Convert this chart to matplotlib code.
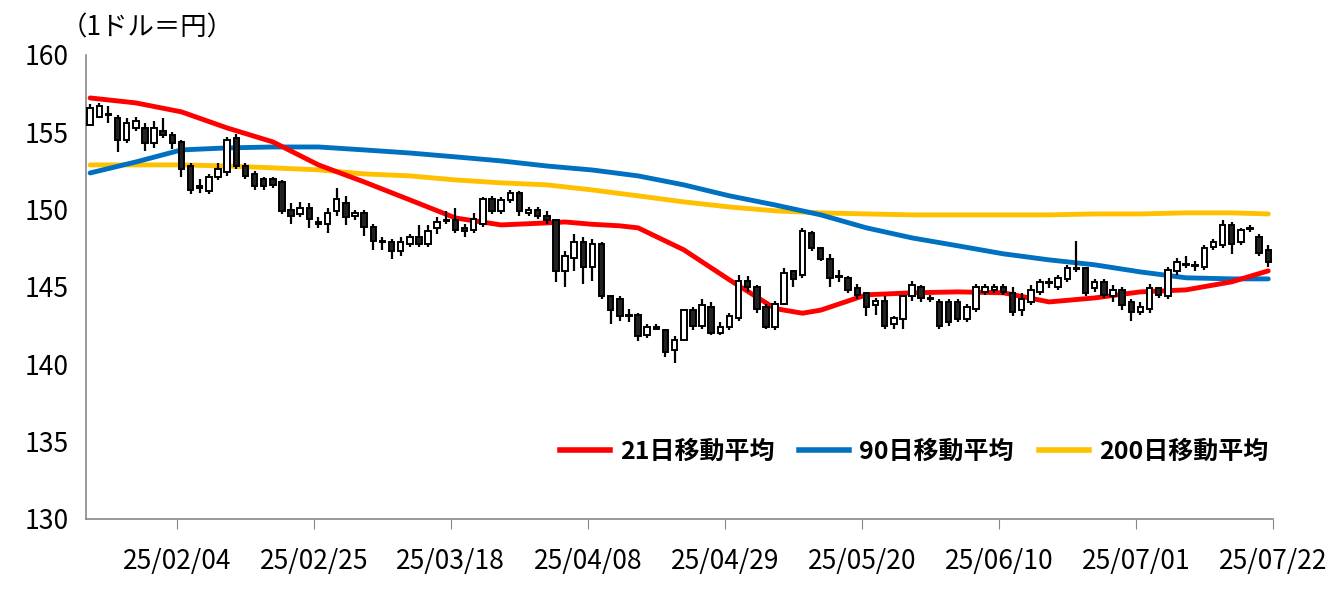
import matplotlib
matplotlib.use("Agg")
import matplotlib.pyplot as plt
from matplotlib.lines import Line2D

plt.rcParams['font.family'] = ['Noto Sans CJK JP', 'DejaVu Sans']

opens = [155.5,156.0,156.2,155.9,154.5,155.3,155.3,154.3,155.1,154.8,
         154.4,152.8,151.5,151.2,152.1,152.4,154.6,152.8,152.3,152.0,
         152.0,151.8,150.0,149.7,150.1,149.2,149.1,149.9,150.4,149.6,
         149.8,148.9,148.0,147.9,147.3,147.8,148.2,147.8,148.8,149.3,
         149.3,148.8,148.7,149.1,150.7,149.9,150.6,151.1,149.8,150.0,
         149.6,149.3,146.0,146.9,147.9,146.3,147.8,144.4,144.2,143.2,
         143.2,141.9,142.4,142.2,140.9,141.6,143.5,142.5,143.7,142.0,
         142.4,143.0,145.4,145.0,143.7,142.4,143.9,146.0,145.8,148.5,
         147.5,146.8,145.7,145.6,144.9,144.6,143.8,144.1,142.6,142.9,
         144.4,145.0,144.3,144.0,144.0,144.0,142.9,143.6,144.7,144.8,
         145.0,144.6,143.5,144.0,144.7,145.3,145.0,145.5,146.2,146.2,
         144.9,145.3,144.4,144.8,144.0,143.4,143.6,144.9,144.4,146.0,
         146.5,146.4,146.3,147.6,147.7,149.0,147.9,148.8,148.2,147.4]
closes = [156.6,156.7,156.1,154.5,155.6,155.7,154.3,155.3,154.8,154.3,
          152.6,151.3,151.4,152.1,152.6,154.5,152.8,152.2,151.5,151.5,
          151.6,149.9,149.6,150.1,149.4,149.1,149.8,150.7,149.5,149.8,
          148.9,148.0,147.9,147.3,147.9,148.2,147.8,148.6,149.2,149.25,
          148.7,148.6,149.4,150.7,149.9,150.6,151.1,149.9,150.0,149.6,
          149.3,146.0,147.0,147.9,146.3,147.8,144.4,143.5,143.1,143.1,
          141.8,142.4,142.3,140.8,141.6,143.5,142.5,143.8,142.0,142.4,
          143.1,145.4,145.0,143.6,142.4,143.9,145.9,145.5,148.6,147.5,
          146.8,145.6,145.65,144.8,144.5,143.7,144.1,142.5,143.0,144.4,
          145.1,144.3,144.25,142.5,142.7,142.9,143.7,145.0,145.0,145.0,
          144.7,143.4,144.2,144.8,145.3,145.25,145.6,146.2,146.15,144.6,
          145.3,144.5,144.8,143.8,143.4,143.7,144.9,144.5,146.1,146.6,
          146.45,146.35,147.5,147.9,149.0,147.8,148.7,148.75,147.2,146.6]
upper_wick = [0.2,0.2,0.5,0.2,0.3,0.3,0.3,0.4,0.8,0.2,
              0.1,0.2,0.5,0.2,0.4,0.2,0.3,0.2,0.2,0.1,
              0.1,0.1,0.4,0.4,0.3,0.3,0.3,0.7,0.5,0.2,
              0.2,0.2,0.2,0.2,0.3,0.2,0.8,0.4,0.3,0.6,
              0.8,0.3,0.4,0.1,0.2,0.2,0.2,0.1,0.2,0.2,
              0.3,0.1,0.3,0.5,0.3,0.3,0.1,0.1,0.2,0.4,
              0.1,0.2,0.2,0.1,0.2,0.1,0.2,0.4,0.3,0.3,
              0.2,0.4,0.3,0.1,0.2,0.2,0.3,0.1,0.2,0.1,
              0.1,0.3,0.4,0.1,0.3,0.1,0.2,0.3,0.1,0.1,
              0.3,0.1,0.2,0.2,0.2,0.2,0.2,0.2,0.2,0.2,
              0.2,0.4,0.4,0.3,0.2,0.3,0.2,0.2,1.8,0.1,
              0.2,0.2,0.3,0.2,0.2,0.3,0.3,0.1,0.2,0.3,
              0.5,0.3,0.2,0.2,0.3,0.2,0.1,0.2,0.2,0.3]
lower_wick = [0.1,0.1,0.5,0.8,0.2,0.2,0.5,0.3,0.2,0.4,
              0.5,0.3,0.3,0.2,0.2,0.2,0.2,0.2,0.2,0.2,
              0.2,0.2,0.5,0.2,0.6,0.3,0.6,0.3,0.5,0.3,
              0.6,0.6,0.5,0.5,0.3,0.2,0.2,0.2,0.4,0.2,
              0.2,0.4,0.2,0.2,0.2,0.2,0.2,0.3,0.2,0.2,
              0.2,0.7,1.0,0.9,1.1,0.9,0.2,0.9,0.3,0.4,
              0.3,0.2,0.1,0.3,0.8,0.1,0.3,0.2,0.1,0.1,
              0.2,0.2,0.3,0.3,0.1,0.2,0.1,0.5,0.2,0.2,
              0.1,0.6,0.3,0.2,0.3,0.6,0.6,0.2,0.3,0.6,
              0.3,0.3,0.2,0.2,0.2,0.2,0.2,0.2,0.2,0.2,
              0.2,0.3,0.4,0.2,0.2,0.3,0.2,0.2,0.2,0.2,
              0.2,0.2,0.4,0.3,0.6,0.2,0.3,0.2,0.2,0.2,
              0.2,0.3,0.2,0.2,0.2,0.7,0.2,0.2,0.2,0.3]

ma_idx = [0,5,10,15,20,25,30,35,40,45,50,52,55,58,60,65,70,75,78,80,85,90,95,100,105,110,115,120,125,129]
ma21 = [157.22,156.90,156.32,155.28,154.38,152.89,151.79,150.63,149.46,149.01,149.14,149.20,149.05,148.95,148.82,
        147.40,145.46,143.60,143.30,143.50,144.49,144.62,144.68,144.62,144.03,144.29,144.68,144.81,145.33,146.04]
ma90_idx = [0,5,10,15,20,25,30,35,40,45,50,55,60,65,70,75,80,85,90,95,100,105,110,115,120,125,129]
ma90 = [152.37,153.08,153.86,153.99,154.05,154.05,153.86,153.66,153.41,153.15,152.82,152.56,152.18,
        151.60,150.89,150.30,149.66,148.82,148.17,147.66,147.14,146.75,146.43,145.97,145.59,145.52,145.52]
ma200 = [152.89,152.89,152.89,152.82,152.70,152.57,152.31,152.18,151.92,151.73,151.60,151.27,150.89,
         150.50,150.17,149.92,149.79,149.72,149.66,149.66,149.66,149.66,149.72,149.72,149.79,149.79,149.72]

tick_labels = ['25/02/04','25/02/25','25/03/18','25/04/08','25/04/29','25/05/20','25/06/10','25/07/01','25/07/22']

fig = plt.figure(figsize=(13.37, 5.91), dpi=100)
ax = fig.add_axes([0.064, 0.122, 0.888, 0.785])

red, blue, yellow = '#ff0000', '#0070c0', '#ffc000'
ax.plot(ma90_idx, ma200, color=yellow, lw=3.5, zorder=2, solid_capstyle='round')
ax.plot(ma90_idx, ma90, color=blue, lw=3.5, zorder=2, solid_capstyle='round')
ax.plot(ma_idx, ma21, color=red, lw=3.5, zorder=2, solid_capstyle='round')

w = 0.6
for i, (o, c) in enumerate(zip(opens, closes)):
    hi = max(o, c) + upper_wick[i]
    lo = min(o, c) - lower_wick[i]
    ax.vlines(i, lo, hi, color='black', lw=1.6, zorder=3)
    up = c >= o
    ax.bar(i, max(abs(c - o), 0.05), bottom=min(o, c), width=w,
           color='white' if up else '#222222', edgecolor='black', linewidth=1.4, zorder=4)

ax.set_xlim(-0.5, 129.5)
ax.set_ylim(130, 160)
ax.set_yticks(range(130, 161, 5))
ax.set_xticks([9.5 + 15 * k for k in range(9)])
ax.set_xticklabels(tick_labels)
ax.tick_params(axis='x', length=7, pad=14, labelsize=19, color='#888888')
ax.tick_params(axis='y', length=0, pad=12, labelsize=19)
for s in ['top', 'right']:
    ax.spines[s].set_visible(False)
for s in ['left', 'bottom']:
    ax.spines[s].set_color('#888888')
    ax.spines[s].set_linewidth(1.2)

fig.text(0.045, 0.952, '（1ドル＝円）', fontsize=19, va='center', ha='left')

handles = [Line2D([], [], color=red, lw=4), Line2D([], [], color=blue, lw=4), Line2D([], [], color=yellow, lw=4)]
leg = ax.legend(handles, ['21日移動平均', '90日移動平均', '200日移動平均'], loc='lower right',
                bbox_to_anchor=(1.015, 0.07), ncol=3, frameon=False, handlelength=2.0,
                columnspacing=1.0, handletextpad=0.4, prop={'size': 18, 'weight': 'bold'})

fig.savefig('out.png', dpi=100)
